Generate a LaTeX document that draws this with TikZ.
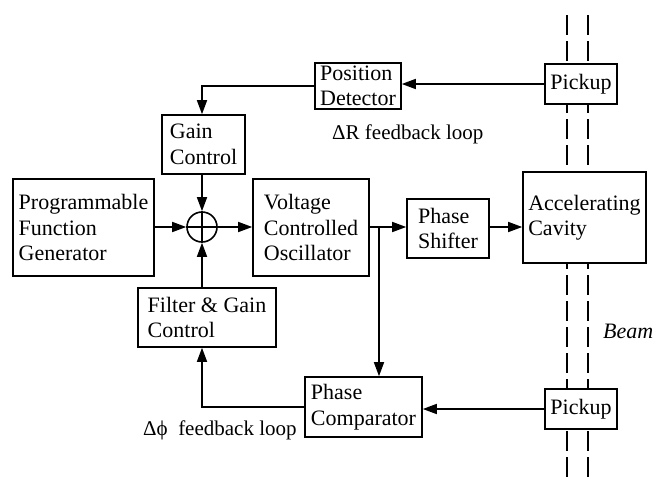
\documentclass[tikz,border=0pt]{standalone}
\usepackage{fontspec}
\setmainfont{Liberation Serif}
\usetikzlibrary{arrows.meta}
\begin{document}
\begin{tikzpicture}[x=1pt,y=-1pt,
  blk/.style={draw, line width=1.6pt, fill=white, align=left, inner sep=2pt,
    font=\fontsize{22}{25.5}\selectfont},
  lnk/.style={line width=1.6pt, -{Triangle[length=14pt,width=10pt]}},
  beamline/.style={line width=1.8pt, dash pattern=on 20pt off 6pt},
  lbl/.style={anchor=base west, inner sep=0pt, font=\fontsize{21}{25}\selectfont}]
\useasboundingbox (0,0) rectangle (656,480);
% beam lines
\draw[beamline] (567,15) -- (567,480);
\draw[beamline] (588,15) -- (588,480);
% blocks
\node[blk, minimum width=141, minimum height=97] (prog) at (83.5,227.5) {Programmable\\Function\\Generator};
\node[blk, minimum width=83, minimum height=59] (gain) at (203.5,144.5) {Gain\\Control};
\node[blk, minimum width=116, minimum height=97] (vco) at (311,227.5) {Voltage\\Controlled\\Oscillator};
\node[blk, minimum width=86, minimum height=46] (posdet) at (358,86) {Position\\Detector};
\node[blk, minimum width=72, minimum height=40] (pick1) at (581,84) {Pickup};
\node[blk, minimum width=123, minimum height=91] (cavity) at (584.5,217.5) {Accelerating\\Cavity};
\node[blk, minimum width=82, minimum height=59] (shifter) at (448,228.5) {Phase\\Shifter};
\node[blk, minimum width=117, minimum height=60] (comp) at (363.5,407) {Phase\\Comparator};
\node[blk, minimum width=72, minimum height=40] (pick2) at (581,409) {Pickup};
\node[blk, minimum width=138, minimum height=59] (filter) at (207,317.5) {Filter \& Gain\\Control};
% summing junction
\node[draw, circle, line width=1.6pt, minimum size=30, inner sep=0pt] (sum) at (202,227) {};
\draw[line width=1.6pt] (sum.north) -- (sum.south);
\draw[line width=1.6pt] (sum.west) -- (sum.east);
% connectors
\draw[lnk] (prog.east |- sum.west) -- (sum.west);
\draw[lnk] (sum.east) -- (sum.east -| vco.west);
\draw[lnk] (sum.north |- gain.south) -- (sum.north);
\draw[lnk] (sum.south |- filter.north) -- (sum.south);
\draw[lnk] (vco.east |- sum.east) -- (shifter.west |- sum.east);
\coordinate (j) at (379,227);
\draw[lnk] (j) -- (j |- comp.north);
\draw[lnk] (shifter.east |- sum.east) -- (cavity.west |- sum.east);
\draw[lnk] (pick1.west) -- (pick1.west -| posdet.east);
\draw[lnk] (posdet.west) -| (sum.north |- gain.north);
\draw[lnk] (pick2.west) -- (pick2.west -| comp.east);
\draw[lnk] (comp.west) -| (sum.south |- filter.south);
% labels
\node[lbl] (dr) at (332,139) {ΔR feedback loop};
\node[lbl] (dp) at (143,435) {Δϕ\ \ feedback loop};
\node[lbl, font=\fontsize{22}{25}\selectfont\itshape] (beam) at (603,338) {Beam};
\end{tikzpicture}
\end{document}
